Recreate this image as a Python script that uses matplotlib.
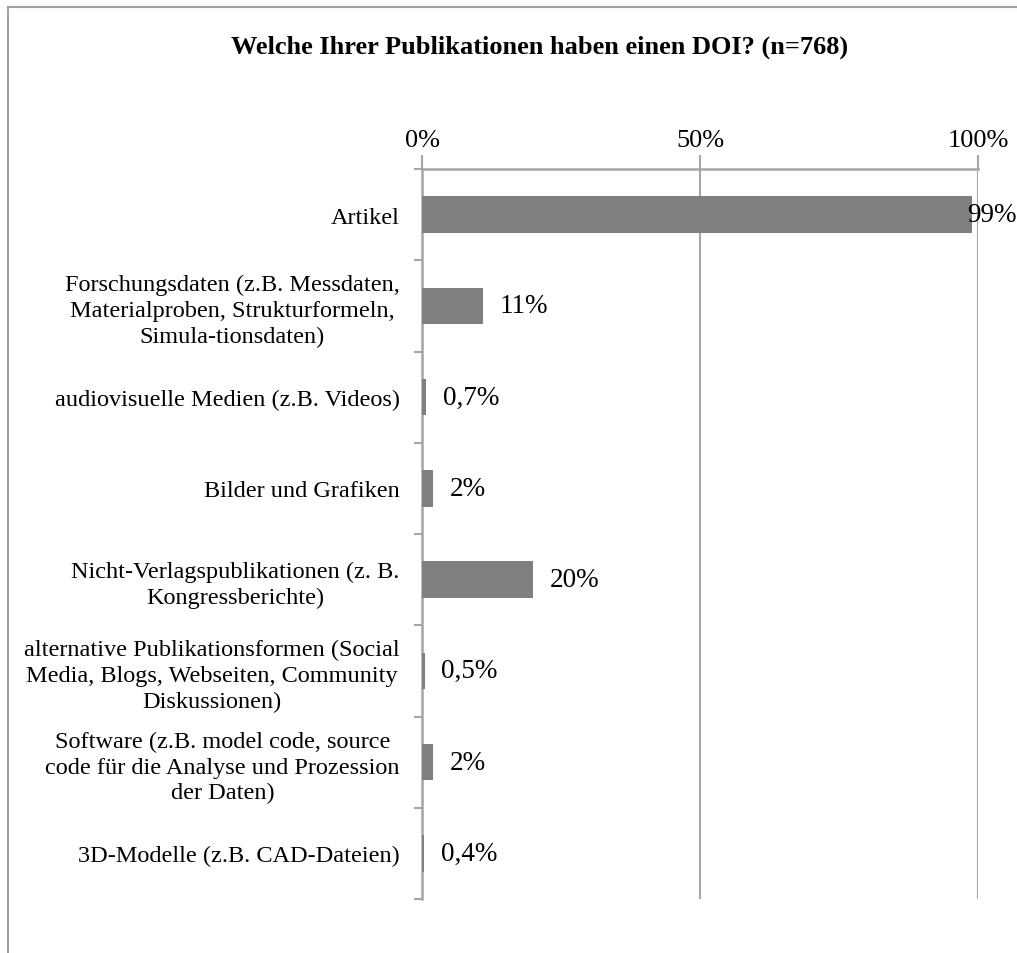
import matplotlib
matplotlib.use("Agg")
import matplotlib.pyplot as plt
from matplotlib.lines import Line2D
import numpy as np

categories = [
    "Artikel",
    "Forschungsdaten (z.B. Messdaten,\nMaterialproben, Strukturformeln,\nSimula-tionsdaten)",
    "audiovisuelle Medien (z.B. Videos)",
    "Bilder und Grafiken",
    "Nicht-Verlagspublikationen (z. B.\nKongressberichte)",
    "alternative Publikationsformen (Social\nMedia, Blogs, Webseiten, Community\nDiskussionen)",
    "Software (z.B. model code, source\ncode für die Analyse und Prozession\nder Daten)",
    "3D-Modelle (z.B. CAD-Dateien)",
]
values = [99, 11, 0.7, 2, 20, 0.5, 2, 0.4]
value_labels = ["99%", "11%", "0,7%", "2%", "20%", "0,5%", "2%", "0,4%"]
xticks = [0, 50, 100]
xticklabels = ["0%", "50%", "100%"]
title = "Welche Ihrer Publikationen haben einen DOI? (n=768)"

W, H = 1017, 954
fig = plt.figure(figsize=(W / 100, H / 100), dpi=100)
fig.patch.set_facecolor("white")

serif = ["Liberation Serif", "DejaVu Serif"]
grid_c = "#a6a6a6"
bar_c = "#7f7f7f"

ax = fig.add_axes([422 / W, 1 - 900 / H, (978 - 422) / W, (900 - 170) / H])
n = len(categories)
y = np.arange(n)
ax.barh(y, values, height=0.4, color=bar_c, zorder=3)
ax.set_xlim(0, 100)
ax.set_ylim(n - 0.5, -0.5)

# axes styling
for s in ["right", "bottom"]:
    ax.spines[s].set_visible(False)
ax.spines["top"].set_color(grid_c)
ax.spines["top"].set_linewidth(1.8)
ax.spines["left"].set_color(grid_c)
ax.spines["left"].set_linewidth(1.8)

ax.xaxis.tick_top()
ax.set_xticks(xticks)
ax.set_xticklabels(xticklabels, fontfamily=serif, fontsize=19)
ax.tick_params(axis="x", which="major", length=10, width=1.5, color=grid_c, pad=3, direction="out")
ax.xaxis.grid(True, color=grid_c, linewidth=1.5, zorder=0)

ax.set_yticks(y)
ax.set_yticklabels(categories, fontfamily=serif, fontsize=17.5, multialignment="center",
                   linespacing=1.3)
ax.tick_params(axis="y", which="major", length=0, pad=16)
ax.set_yticks(np.arange(n + 1) - 0.5, minor=True)
ax.tick_params(axis="y", which="minor", length=6, width=1.5, color=grid_c, direction="out")

for yi, v, lab in zip(y, values, value_labels):
    off = -4 if v > 95 else 12
    ax.annotate(lab, (v, yi), xytext=(off, 0), textcoords="offset points",
                va="center", ha="left", fontsize=19.5, fontfamily=serif,
                annotation_clip=False, zorder=4)

fig.text(540 / W, 1 - 47 / H, title, ha="center", va="center",
         fontsize=19, fontweight="bold", fontfamily=serif)

# outer chart border (partially cut off)
fig.add_artist(Line2D([8 / W, 1.0], [1 - 8 / H, 1 - 8 / H], color="#a0a0a0", linewidth=1.5))
fig.add_artist(Line2D([8 / W, 8 / W], [1 - 8 / H, 0.0], color="#a0a0a0", linewidth=1.5))

fig.savefig("out.png", dpi=100)
